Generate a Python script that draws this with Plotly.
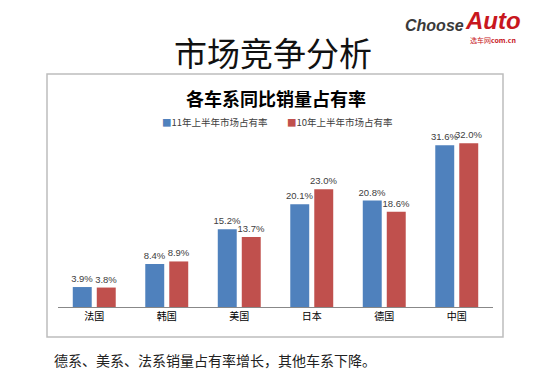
import plotly.graph_objects as go

categories = ["法国", "韩国", "美国", "日本", "德国", "中国"]
share_2011 = [3.9, 8.4, 15.2, 20.1, 20.8, 31.6]
share_2010 = [3.8, 8.9, 13.7, 23.0, 18.6, 32.0]
series_names = ["11年上半年市场占有率", "10年上半年市场占有率"]
colors = ["#4F81BD", "#C0504D"]

# page body has an 8px default margin; compensate
OFF = 8
W, H = 540 - OFF, 386 - OFF
ML, MR, MT, MB = 58 - OFF, 47, 133 - OFF, 79
PW = W - ML - MR
PH = H - MT - MB


def px(x):
    return (x - OFF - ML) / PW


def py(y):
    return (H - MB - (y - OFF)) / PH


CJK = "Noto Sans CJK SC"

fig = go.Figure()
for name, vals, col in zip(series_names, [share_2011, share_2010], colors):
    fig.add_trace(go.Bar(
        x=categories, y=vals, name=name,
        marker=dict(color=col, line=dict(width=0)),
        text=[f"{v:.1f}%" for v in vals],
        textposition="outside",
        constraintext="none",
        textfont=dict(family="Liberation Sans", size=9.5, color="#404040"),
        cliponaxis=False,
    ))

annotations = [
    dict(text="市场竞争分析", x=px(273), y=py(52), xref="paper", yref="paper",
         showarrow=False, font=dict(family=CJK, size=33, color="#111111"),
         xanchor="center", yanchor="middle"),
    dict(text="<b>各车系同比销量占有率</b>", x=px(276), y=py(98), xref="paper", yref="paper",
         showarrow=False, font=dict(family=CJK, size=18, color="#000000"),
         xanchor="center", yanchor="middle"),
    dict(text=f"<span style='color:{colors[0]}'>■</span>{series_names[0]}",
         x=px(160), y=py(122), xref="paper", yref="paper", showarrow=False,
         font=dict(family=CJK, size=9.5, color="#404040"), xanchor="left", yanchor="middle"),
    dict(text=f"<span style='color:{colors[1]}'>■</span>{series_names[1]}",
         x=px(285), y=py(122), xref="paper", yref="paper", showarrow=False,
         font=dict(family=CJK, size=9.5, color="#404040"), xanchor="left", yanchor="middle"),
    dict(text="德系、美系、法系销量占有率增长，其他车系下降。", x=px(52), y=py(360),
         xref="paper", yref="paper", showarrow=False,
         font=dict(family=CJK, size=14, color="#222222"), xanchor="left", yanchor="middle"),
    dict(text="<b><i>Choose</i></b>", x=px(466), y=py(25), xref="paper", yref="paper",
         showarrow=False, font=dict(family="Liberation Sans", size=16, color="#3A3A3A"),
         xanchor="right", yanchor="middle"),
    dict(text="<b><i>Auto</i></b>", x=px(463), y=py(21), xref="paper", yref="paper",
         showarrow=False, font=dict(family="Liberation Sans", size=24, color="#C8171E"),
         xanchor="left", yanchor="middle"),
    dict(text="选车网<b>com.cn</b>", x=px(468), y=py(40), xref="paper", yref="paper",
         showarrow=False, font=dict(family=CJK, size=7, color="#C8171E"),
         xanchor="left", yanchor="middle"),
]

shapes = [
    dict(type="rect", xref="paper", yref="paper",
         x0=px(47), x1=px(503), y0=py(337), y1=py(74),
         line=dict(color="#BDBDBD", width=1.5), layer="below"),
]

fig.update_layout(
    width=W, height=H,
    margin=dict(l=ML, r=MR, t=MT, b=MB),
    paper_bgcolor="white", plot_bgcolor="white",
    showlegend=False,
    barmode="group", bargap=0.338, bargroupgap=0.21,
    xaxis=dict(showline=True, linecolor="#888888", linewidth=1, ticks="",
               tickfont=dict(family=CJK, size=10, color="#000000"),
               showgrid=False, fixedrange=True),
    yaxis=dict(range=[0, 34], visible=False, showgrid=False, zeroline=False),
    annotations=annotations,
    shapes=shapes,
)

fig.write_html("out.html")
